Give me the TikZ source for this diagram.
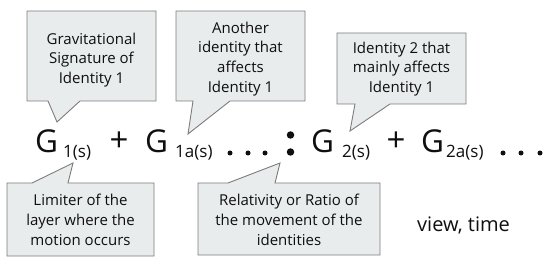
\documentclass[tikz,border=0pt]{standalone}
\usepackage{fontspec}
\setmainfont{Open Sans}
\definecolor{boxfill}{RGB}{233,236,236}
\definecolor{boxline}{RGB}{125,125,125}
\definecolor{ink}{RGB}{15,15,15}
\begin{document}
\begin{tikzpicture}[x=1pt,y=-1pt,
  callout/.style={fill=boxfill,draw=boxline,line width=0.9pt,line join=miter},
  boxtext/.style={align=center,font=\fontsize{15}{19.8}\selectfont,text=ink,inner sep=0pt},
  bigG/.style={anchor=base west,font=\fontsize{31.5}{31.5}\selectfont,text=ink,inner sep=0pt},
  subs/.style={anchor=base west,font=\fontsize{17}{17}\selectfont,text=ink,inner sep=0pt},
  plussign/.style={font=\fontsize{33}{33}\selectfont,text=ink,inner sep=0pt},
  smalldot/.style={circle,fill=ink,inner sep=0pt,minimum size=5pt},
  bigdot/.style={circle,fill=ink,inner sep=0pt,minimum size=7.5pt},
  plain/.style={anchor=base west,font=\fontsize{20}{20}\selectfont,text=ink,inner sep=0pt}]
\useasboundingbox[fill=white] (0,0) rectangle (550,262);

% callouts (box with pointer)
\draw[callout] (27,11) -- (156,11) -- (156,101) -- (80,101) -- (57,122) -- (48,101) -- (27,101) -- cycle;
\node[boxtext] (t1) at (91.5,60) {Gravitational\\Signature of\\Identity 1};

\draw[callout] (176,11) -- (305,11) -- (305,101) -- (230,101) -- (188,134) -- (193,101) -- (176,101) -- cycle;
\node[boxtext] (t2) at (240.5,59) {Another\\identity that\\affects\\Identity 1};

\draw[callout] (337,33) -- (466,33) -- (466,104) -- (390,104) -- (350,131) -- (355,104) -- (337,104) -- cycle;
\node[boxtext] (t3) at (401.5,69) {Identity 2 that\\mainly affects\\Identity 1};

\draw[callout] (7,183) -- (32,183) -- (73,163) -- (68,183) -- (154,183) -- (154,256) -- (7,256) -- cycle;
\node[boxtext] (t4) at (80.5,220) {Limiter of the\\layer where the\\motion occurs};

\draw[callout] (198,183) -- (228,183) -- (280,163) -- (275,183) -- (380,183) -- (380,255) -- (198,255) -- cycle;
\node[boxtext] (t5) at (289,220) {Relativity or Ratio of\\the movement of the\\identities};

% formula
\node[bigG] (g1) at (35,153) {G};
\node[subs] (s1) at (63,158) {1(s)};
\node[plussign] (p1) at (119,142) {+};
\node[bigG] (g1a) at (145,153) {G};
\node[subs] (s1a) at (175,158) {1a(s)};
\node[smalldot] (d1) at (230,153) {};
\node[smalldot] (d2) at (248,153) {};
\node[smalldot] (d3) at (265,153) {};
\node[bigdot] (c1) at (290.5,135) {};
\node[bigdot] (c2) at (290.5,152) {};
\node[bigG] (g2) at (311,153) {G};
\node[subs] (s2) at (342,158) {2(s)};
\node[plussign] (p2) at (396,142) {+};
\node[bigG] (g2a) at (421,153) {G};
\node[subs] (s2a) at (446,158) {2a(s)};
\node[smalldot] (e1) at (503,153) {};
\node[smalldot] (e2) at (521,153) {};
\node[smalldot] (e3) at (540,153) {};

\node[plain] (vt) at (417,232) {view, time};
\end{tikzpicture}
\end{document}
